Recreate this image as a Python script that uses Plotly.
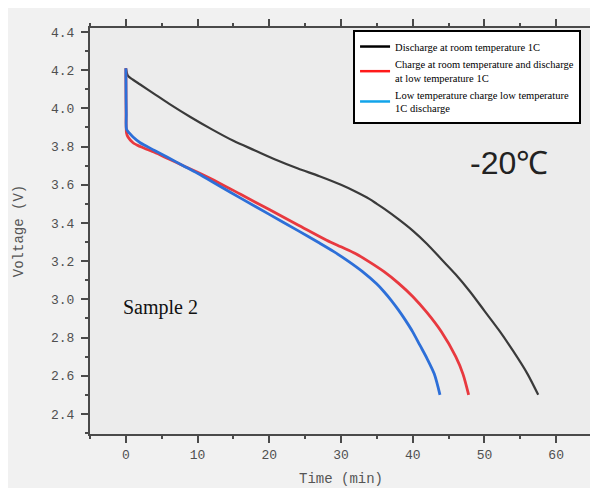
import plotly.graph_objects as go

# ---- data ----
black_x = [0, 0.3, 1, 2, 4, 6, 9, 12, 15, 18, 21, 24, 27, 30, 32, 34, 35, 36, 38, 40, 42, 44, 46, 48, 50, 52, 54, 56, 57.5]
black_y = [4.21, 4.17, 4.15, 4.125, 4.075, 4.025, 3.955, 3.89, 3.83, 3.78, 3.73, 3.685, 3.645, 3.60, 3.565, 3.525, 3.50, 3.475, 3.42, 3.36, 3.29, 3.21, 3.13, 3.04, 2.94, 2.84, 2.73, 2.61, 2.50]

red_x = [0, 0.03, 0.1, 0.3, 1, 2, 3, 4, 6, 8, 10, 13, 16, 20, 24, 28, 30, 32, 34, 36, 38, 40, 42, 44, 46, 47, 47.8]
red_y = [4.21, 4.0, 3.87, 3.85, 3.82, 3.80, 3.785, 3.77, 3.735, 3.70, 3.665, 3.61, 3.55, 3.47, 3.39, 3.31, 3.275, 3.24, 3.195, 3.145, 3.085, 3.015, 2.93, 2.83, 2.70, 2.61, 2.50]

blue_x = [0, 0.03, 0.06, 0.1, 0.5, 1, 2, 4, 6, 8, 10, 13, 16, 20, 24, 27, 29, 31, 33, 35, 36, 37, 38, 39, 40, 41, 42, 43, 43.8]
blue_y = [4.21, 4.05, 3.97, 3.89, 3.87, 3.85, 3.82, 3.78, 3.74, 3.70, 3.66, 3.595, 3.53, 3.445, 3.36, 3.295, 3.25, 3.20, 3.145, 3.08, 3.04, 2.995, 2.945, 2.89, 2.83, 2.76, 2.69, 2.61, 2.50]

legend_names = [
    "Discharge at room temperature 1C",
    "Charge at room temperature and discharge<br>at low temperature 1C",
    "Low temperature charge low temperature<br>1C discharge",
]
legend_colors = ["#000000", "#ff1a1a", "#12a4ea"]
curve_colors = ["#3a3a3a", "#e8393f", "#2d6fd8"]

x_ticks = [0, 10, 20, 30, 40, 50, 60]
y_ticks = [2.4, 2.6, 2.8, 3.0, 3.2, 3.4, 3.6, 3.8, 4.0, 4.2, 4.4]

fig = go.Figure()

series = [(black_x, black_y), (red_x, red_y), (blue_x, blue_y)]
widths = [2.2, 2.8, 2.8]
for (xs, ys), c, w in zip(series, curve_colors, widths):
    fig.add_trace(go.Scatter(x=xs, y=ys, mode="lines",
                             line=dict(color=c, width=w, shape="spline", smoothing=0.8),
                             showlegend=False, hoverinfo="skip"))

for name, c in zip(legend_names, legend_colors):
    fig.add_trace(go.Scatter(x=[None], y=[None], mode="lines", name=name, line=dict(color=c, width=2.5)))

mono = "Liberation Mono, DejaVu Sans Mono, monospace"
tick_font = dict(family=mono, size=13, color="#4f4f4f")
axis_common = dict(
    showline=True, linecolor="#4a4a4a", linewidth=2, mirror="ticks",
    ticks="outside", ticklen=7, tickwidth=1.5, tickcolor="#4a4a4a",
    showgrid=False, zeroline=False, tickfont=tick_font, automargin=False,
)

fig.update_xaxes(range=[-5, 65], tickvals=x_ticks,
                 minor=dict(dtick=5, tick0=0, ticks="outside", ticklen=3, tickcolor="#4a4a4a", showgrid=False),
                 title=dict(text="Time (min)", font=dict(family=mono, size=14, color="#555555"), standoff=12),
                 **axis_common)
fig.update_yaxes(range=[2.295, 4.421], tickvals=y_ticks, tickformat=".1f",
                 ticklabelstandoff=4,
                 minor=dict(dtick=0.1, tick0=0, ticks="outside", ticklen=3, tickcolor="#4a4a4a", showgrid=False),
                 title=dict(text="Voltage (V)", font=dict(family=mono, size=14, color="#555555"), standoff=24),
                 **axis_common)

fig.add_annotation(text="-20\u2103", xref="paper", yref="paper", x=0.835, y=0.668,
                   xanchor="center", yanchor="middle", showarrow=False,
                   font=dict(family="Liberation Sans, Arial, sans-serif", size=32, color="#222222"))
fig.add_annotation(text="Sample 2", xref="paper", yref="paper", x=0.141, y=0.311,
                   xanchor="center", yanchor="middle", showarrow=False,
                   font=dict(family="Liberation Serif, Times New Roman, serif", size=20, color="#111111"))

# the page body adds an 8 px offset, so the figure is 8 px smaller and shifted
fig.update_layout(
    width=590, height=480,
    margin=dict(l=82, r=6, t=20, b=54, autoexpand=False),
    paper_bgcolor="#f1f1f1", plot_bgcolor="#ececec",
    showlegend=True,
    legend=dict(x=0.524, y=0.995, xanchor="left", yanchor="top",
                bgcolor="#ffffff", bordercolor="#000000", borderwidth=2,
                font=dict(family="Liberation Serif, Times New Roman, serif", size=10.5, color="#000000"),
                itemwidth=30, tracegroupgap=0),
)

fig.write_html("out.html")
